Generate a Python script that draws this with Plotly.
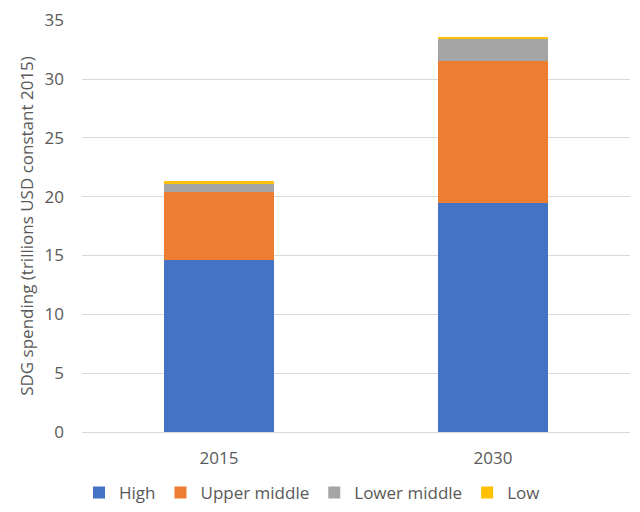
import plotly.graph_objects as go

years = ["2015", "2030"]
high = [14.6, 19.5]
upper_middle = [5.8, 12.0]
lower_middle = [0.75, 1.9]
low = [0.15, 0.2]

series = [
    ("High", high, "#4472C4"),
    ("Upper middle", upper_middle, "#ED7D31"),
    ("Lower middle", lower_middle, "#A5A5A5"),
    ("Low", low, "#FFC000"),
]

fig = go.Figure()
for name, vals, color in series:
    fig.add_trace(go.Bar(
        name=name,
        x=years,
        y=vals,
        marker=dict(color=color, line=dict(width=0)),
        width=0.4,
    ))

# the page puts the figure 8px in from the top-left corner
fig.update_layout(
    barmode="stack",
    width=640,
    height=512,
    margin=dict(l=74, r=18, t=12, b=88),
    paper_bgcolor="white",
    plot_bgcolor="white",
    font=dict(family="Open Sans, Noto Sans, Arial", size=17, color="#595959"),
    showlegend=True,
    legend=dict(
        orientation="h",
        xref="container",
        x=0.475,
        xanchor="center",
        yref="container",
        y=0.053,
        yanchor="middle",
        font=dict(size=17, color="#595959"),
        itemwidth=30,
        traceorder="normal",
    ),
)

fig.update_yaxes(
    range=[0, 35.02],
    tickvals=[0, 5, 10, 15, 20, 25, 30, 35],
    showgrid=True,
    gridcolor="#d9d9d9",
    gridwidth=1,
    zeroline=False,
    showline=False,
    ticks="",
    ticklabelstandoff=17,
    automargin=False,
    title=dict(text="SDG spending (trillions USD constant 2015)",
               font=dict(size=17, color="#595959"), standoff=6),
)
fig.update_xaxes(
    showline=True,
    linecolor="#d9d9d9",
    linewidth=1,
    ticks="",
    ticklabelstandoff=11,
    automargin=False,
)

fig.write_html("out.html")
